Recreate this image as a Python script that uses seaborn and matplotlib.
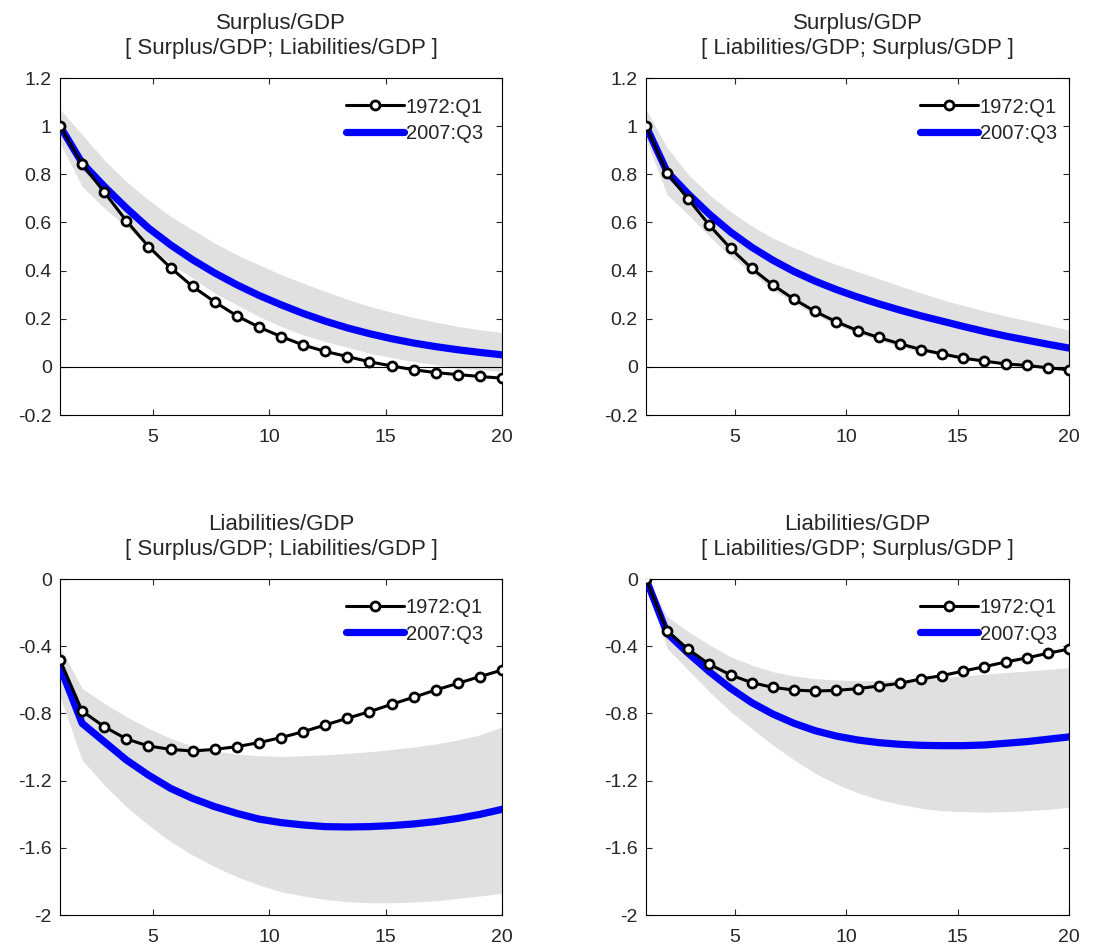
import numpy as np
import pandas as pd
import seaborn as sns
import matplotlib
matplotlib.use("Agg")
import matplotlib.pyplot as plt

# horizon: 21 points spread across the 1..20 axis
horizon = np.linspace(1, 20, 21)

titles = ["Surplus/GDP\n[ Surplus/GDP; Liabilities/GDP ]",
          "Surplus/GDP\n[ Liabilities/GDP; Surplus/GDP ]",
          "Liabilities/GDP\n[ Surplus/GDP; Liabilities/GDP ]",
          "Liabilities/GDP\n[ Liabilities/GDP; Surplus/GDP ]"]
labels = ["1972:Q1", "2007:Q3"]

# top left
s1_1972 = [1.0, 0.843, 0.726, 0.607, 0.500, 0.412, 0.334, 0.270, 0.212, 0.165, 0.126,
           0.091, 0.064, 0.043, 0.021, 0.004, -0.012, -0.024, -0.032, -0.040, -0.047]
s1_2007 = [1.0, 0.847, 0.750, 0.660, 0.577, 0.507, 0.445, 0.390, 0.341, 0.297, 0.258,
           0.222, 0.190, 0.162, 0.138, 0.117, 0.099, 0.084, 0.071, 0.060, 0.050]
s1_hi = [1.07, 0.965, 0.86, 0.77, 0.694, 0.625, 0.57, 0.514, 0.466, 0.424, 0.383,
         0.348, 0.313, 0.281, 0.251, 0.227, 0.205, 0.186, 0.168, 0.154, 0.143]
s1_lo = [0.93, 0.75, 0.66, 0.583, 0.50, 0.431, 0.369, 0.306, 0.258, 0.209, 0.168,
         0.133, 0.105, 0.082, 0.057, 0.039, 0.022, 0.008, -0.006, -0.012, -0.019]

# top right
s2_1972 = [1.0, 0.805, 0.697, 0.588, 0.492, 0.409, 0.340, 0.281, 0.230, 0.187, 0.151,
           0.122, 0.096, 0.072, 0.054, 0.036, 0.024, 0.012, 0.006, -0.004, -0.012]
s2_2007 = [1.0, 0.81, 0.718, 0.634, 0.56, 0.497, 0.443, 0.396, 0.356, 0.321, 0.29,
           0.262, 0.236, 0.212, 0.19, 0.168, 0.147, 0.128, 0.111, 0.094, 0.078]
s2_hi = [1.07, 0.91, 0.80, 0.715, 0.645, 0.585, 0.535, 0.495, 0.458, 0.425, 0.396,
         0.366, 0.336, 0.307, 0.279, 0.255, 0.232, 0.211, 0.192, 0.173, 0.153]
s2_lo = [0.944, 0.715, 0.632, 0.542, 0.459, 0.39, 0.32, 0.265, 0.216, 0.175, 0.14,
         0.11, 0.085, 0.064, 0.046, 0.032, 0.021, 0.012, 0.006, 0.0, -0.006]

# bottom left
l1_1972 = [-0.482, -0.786, -0.879, -0.952, -0.994, -1.014, -1.024, -1.014, -0.998, -0.974, -0.944,
           -0.909, -0.869, -0.829, -0.790, -0.746, -0.704, -0.661, -0.621, -0.581, -0.542]
l1_2007 = [-0.522, -0.859, -0.968, -1.077, -1.167, -1.246, -1.306, -1.355, -1.395, -1.429, -1.45,
           -1.464, -1.474, -1.476, -1.474, -1.468, -1.458, -1.444, -1.425, -1.401, -1.371]
l1_hi = [-0.403, -0.651, -0.74, -0.819, -0.889, -0.948, -0.994, -1.024, -1.042, -1.052, -1.056,
         -1.052, -1.046, -1.038, -1.028, -1.015, -1.0, -0.982, -0.958, -0.928, -0.88]
l1_lo = [-0.70, -1.077, -1.226, -1.355, -1.464, -1.563, -1.643, -1.712, -1.772, -1.821, -1.861,
         -1.887, -1.907, -1.921, -1.927, -1.927, -1.923, -1.915, -1.901, -1.887, -1.871]

# bottom right
l2_1972 = [0.0, -0.31, -0.419, -0.508, -0.571, -0.617, -0.645, -0.661, -0.667, -0.663, -0.653,
           -0.637, -0.621, -0.595, -0.575, -0.548, -0.522, -0.494, -0.47, -0.442, -0.417]
l2_2007 = [0.0, -0.323, -0.442, -0.552, -0.651, -0.736, -0.804, -0.859, -0.903, -0.935, -0.958,
           -0.974, -0.984, -0.99, -0.992, -0.992, -0.988, -0.978, -0.968, -0.954, -0.94]
l2_hi = [0.0, -0.224, -0.313, -0.393, -0.462, -0.512, -0.552, -0.577, -0.593, -0.601, -0.605,
         -0.605, -0.601, -0.595, -0.587, -0.577, -0.567, -0.557, -0.548, -0.538, -0.528]
l2_lo = [0.0, -0.413, -0.542, -0.671, -0.79, -0.889, -0.988, -1.077, -1.157, -1.22, -1.272,
         -1.312, -1.341, -1.365, -1.379, -1.385, -1.387, -1.385, -1.379, -1.371, -1.359]

sns.set_style("ticks")
plt.rcParams['font.family'] = ['Liberation Sans', 'DejaVu Sans']

fig = plt.figure(figsize=(11.12, 9.47), dpi=100)
W, H = 1112, 947
boxes = [(60, 78, 502, 415), (646, 78, 1069, 415),
         (60, 579, 502, 915), (646, 579, 1069, 915)]
panels = [(s1_1972, s1_2007, s1_hi, s1_lo),
          (s2_1972, s2_2007, s2_hi, s2_lo),
          (l1_1972, l1_2007, l1_hi, l1_lo),
          (l2_1972, l2_2007, l2_hi, l2_lo)]

for i, (box, (old, new, hi, lo)) in enumerate(zip(boxes, panels)):
    x0, y0, x1, y1 = box
    ax = fig.add_axes([x0 / W, 1 - y1 / H, (x1 - x0) / W, (y1 - y0) / H])
    ax.fill_between(horizon, lo, hi, color='#e0e0e0', linewidth=0, zorder=1)
    if i < 2:
        ax.axhline(0, color='black', linewidth=0.8, zorder=2)
    df = pd.DataFrame({'h': horizon, 'old': old, 'new': new})
    sns.lineplot(data=df, x='h', y='new', ax=ax, color='#0000ff', linewidth=5.2,
                 label=labels[1], zorder=3)
    sns.lineplot(data=df, x='h', y='old', ax=ax, color='black', linewidth=2.2,
                 marker='o', markersize=6.5, markerfacecolor='white',
                 markeredgecolor='black', markeredgewidth=2.0, label=labels[0], zorder=4)
    handles, labs = ax.get_legend_handles_labels()
    ax.legend([handles[1], handles[0]], [labs[1], labs[0]], loc='upper left',
              bbox_to_anchor=(0.625, 0.972), frameon=False, fontsize=14.5,
              handlelength=2.85, handletextpad=0.1, labelspacing=0.35, borderpad=0)
    ax.set_xlim(1, 20)
    ax.set_xticks([5, 10, 15, 20])
    if i < 2:
        ax.set_ylim(-0.2, 1.2)
        ax.set_yticks([-0.2, 0, 0.2, 0.4, 0.6, 0.8, 1.0, 1.2])
        ax.set_yticklabels(['-0.2', '0', '0.2', '0.4', '0.6', '0.8', '1', '1.2'])
    else:
        ax.set_ylim(-2, 0)
        ax.set_yticks([-2, -1.6, -1.2, -0.8, -0.4, 0])
        ax.set_yticklabels(['-2', '-1.6', '-1.2', '-0.8', '-0.4', '0'])
    ax.set_xlabel('')
    ax.set_ylabel('')
    ax.tick_params(direction='in', top=True, right=True, length=4, width=0.8,
                   labelsize=14, pad=6)
    ax.tick_params(axis='x', pad=10)
    for sp in ax.spines.values():
        sp.set_visible(True)
        sp.set_linewidth(0.8)
        sp.set_color('black')
    ax.set_title(titles[i], fontsize=16, linespacing=1.3, pad=17)

fig.savefig("out.png", dpi=100)
